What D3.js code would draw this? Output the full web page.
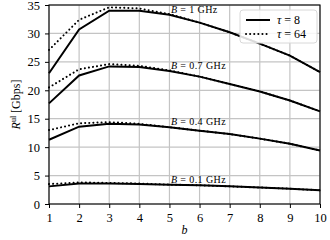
<!DOCTYPE html>
<html>
<head>
<meta charset="utf-8">
<script src="https://cdn.jsdelivr.net/npm/d3@7"></script>
<style>
  body { margin: 0; background: #fff; }
  svg { display: block; }
  text { font-family: "Liberation Serif", "DejaVu Serif", serif; fill: #000; }
  .axis .domain { display: none; }
  .axis text { font-size: 12.5px; }
</style>
</head>
<body>
<svg id="chart"></svg>
<script>
// b values (x axis)
const bValues = [1, 2, 3, 4, 5, 6, 7, 8, 9, 10];
const yTicks = [0, 5, 10, 15, 20, 25, 30, 35];

// bandwidth groups, rates in Gbps
const bandLabels = ['B = 1 GHz', 'B = 0.7 GHz', 'B = 0.4 GHz', 'B = 0.1 GHz'];

const tau8 = [
  [23.0, 30.7, 34.0, 34.0, 33.3, 31.9, 30.2, 28.2, 26.1, 23.2],
  [17.7, 22.6, 24.2, 24.1, 23.4, 22.4, 21.1, 19.8, 18.2, 16.3],
  [11.3, 13.6, 14.1, 14.0, 13.5, 12.9, 12.3, 11.5, 10.6, 9.4],
  [3.1, 3.6, 3.6, 3.5, 3.4, 3.3, 3.1, 2.9, 2.7, 2.4]
];
const tau64 = [
  [27.1, 32.4, 34.6, 34.4, 33.4, 31.9, 30.2, 28.2, 26.1, 23.2],
  [20.5, 23.7, 24.6, 24.3, 23.5, 22.4, 21.1, 19.8, 18.2, 16.3],
  [13.0, 14.2, 14.4, 14.1, 13.5, 12.9, 12.3, 11.5, 10.6, 9.4],
  [3.5, 3.8, 3.7, 3.6, 3.4, 3.3, 3.1, 2.9, 2.7, 2.4]
];

const width = 330, height = 240;
const margin = {top: 5, right: 10, bottom: 36, left: 49};
const innerW = width - margin.left - margin.right;
const innerH = height - margin.top - margin.bottom;

const svg = d3.select('#chart').attr('width', width).attr('height', height);
const chart = svg.append('g').attr('transform', `translate(${margin.left},${margin.top})`);

const xScale = d3.scaleLinear().domain([1, 10]).range([0, innerW]);
const yScale = d3.scaleLinear().domain([0, 35]).range([innerH, 0]);

// grid
chart.append('g').selectAll('line')
  .data(bValues)
  .join('line')
  .attr('x1', d => xScale(d)).attr('x2', d => xScale(d))
  .attr('y1', 0).attr('y2', innerH)
  .attr('stroke', '#c4c4c4').attr('stroke-width', 1.2);
chart.append('g').selectAll('line')
  .data(yTicks)
  .join('line')
  .attr('y1', d => yScale(d)).attr('y2', d => yScale(d))
  .attr('x1', 0).attr('x2', innerW)
  .attr('stroke', '#c4c4c4').attr('stroke-width', 1.2);

// axes
const xAxis = d3.axisBottom(xScale).tickValues(bValues).tickSize(4).tickPadding(5).tickFormat(d3.format('d'));
const yAxis = d3.axisLeft(yScale).tickValues(yTicks).tickSize(4).tickPadding(5);
chart.append('g').attr('class', 'axis').attr('transform', `translate(0,${innerH})`).call(xAxis);
chart.append('g').attr('class', 'axis').call(yAxis);

// curves
const line = d3.line().x((d, i) => xScale(bValues[i])).y(d => yScale(d));

chart.append('g').selectAll('path')
  .data(tau64)
  .join('path')
  .attr('d', line)
  .attr('fill', 'none')
  .attr('stroke', '#000')
  .attr('stroke-width', 2)
  .attr('stroke-linecap', 'round')
  .attr('stroke-dasharray', '0.1,4');

chart.append('g').selectAll('path')
  .data(tau8)
  .join('path')
  .attr('d', line)
  .attr('fill', 'none')
  .attr('stroke', '#000')
  .attr('stroke-width', 2);

// band labels, sitting just above each curve at b = 5
chart.append('g').selectAll('text')
  .data(bandLabels)
  .join('text')
  .attr('x', xScale(5.05))
  .attr('y', (d, i) => yScale(tau8[i][4]) - 2)
  .attr('font-size', 10)
  .attr('letter-spacing', 0.4)
  .each(function(d) {
    const parts = d.split(' = ');
    const t = d3.select(this);
    t.append('tspan').attr('font-style', 'italic').text(parts[0]);
    t.append('tspan').text(' = ' + parts[1]);
  });

// frame
chart.append('rect')
  .attr('width', innerW).attr('height', innerH)
  .attr('fill', 'none').attr('stroke', '#000').attr('stroke-width', 1.1);

// legend
const legend = chart.append('g').attr('transform', `translate(${innerW - 80},5)`);
legend.append('rect')
  .attr('width', 77).attr('height', 33).attr('rx', 3)
  .attr('fill', 'rgba(255,255,255,0.85)')
  .attr('stroke', '#d8d8d8').attr('stroke-width', 1);
const legendItems = [{label: '8', dash: null}, {label: '64', dash: '0.1,4'}];
legendItems.forEach((it, i) => {
  const y = 10 + i * 14;
  legend.append('line')
    .attr('x1', 6).attr('x2', 30).attr('y1', y).attr('y2', y)
    .attr('stroke', '#000').attr('stroke-width', 2)
    .attr('stroke-linecap', it.dash ? 'round' : 'butt')
    .attr('stroke-dasharray', it.dash);
  const t = legend.append('text').attr('x', 37).attr('y', y).attr('dy', '0.35em').attr('font-size', 12);
  t.append('tspan').attr('font-style', 'italic').text('τ');
  t.append('tspan').text(' = ' + it.label);
});

// axis titles
svg.append('text')
  .attr('x', margin.left + innerW / 2).attr('y', 234)
  .attr('text-anchor', 'middle').attr('font-size', 12).attr('font-style', 'italic')
  .text('b');

const yt = svg.append('text')
  .attr('transform', `translate(20,${margin.top + innerH / 2}) rotate(-90)`)
  .attr('text-anchor', 'middle').attr('font-size', 12);
yt.append('tspan').attr('font-style', 'italic').text('R');
yt.append('tspan').attr('font-size', 8).attr('dy', -4).text('ul');
yt.append('tspan').attr('dy', 4).text(' [Gbps]');
</script>
</body>
</html>
